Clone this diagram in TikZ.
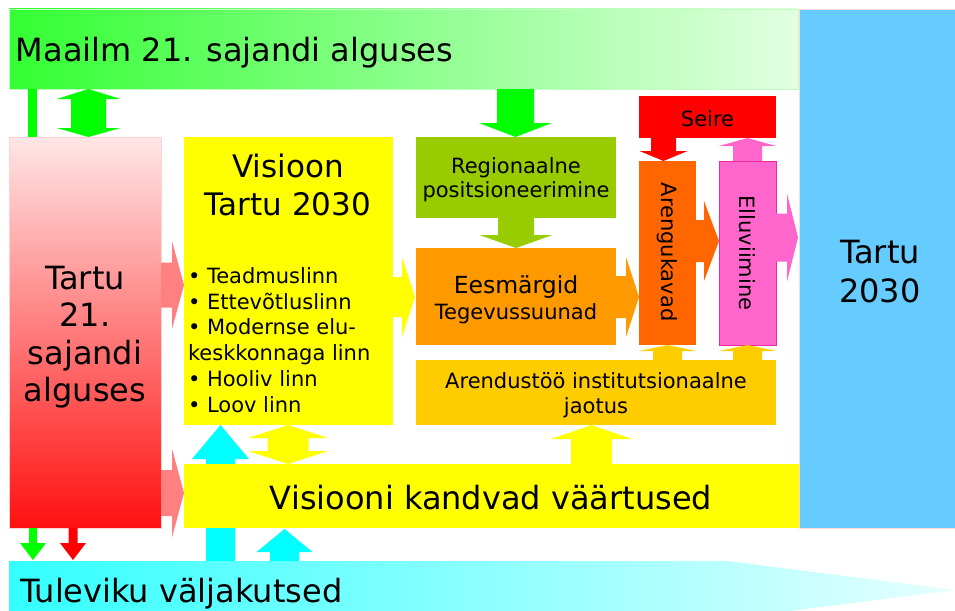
\documentclass[tikz,border=0pt]{standalone}
\usepackage{fontspec}
\setmainfont{DejaVu Sans}
\definecolor{bannerG}{HTML}{33FF33}
\definecolor{bannerGm}{HTML}{A8FFA8}
\definecolor{bannerGr}{HTML}{E2FFE2}
\definecolor{arrG}{HTML}{00FF00}
\definecolor{yel}{HTML}{FFFF00}
\definecolor{olv}{HTML}{99CC00}
\definecolor{orng}{HTML}{FF9900}
\definecolor{orngR}{HTML}{FF6600}
\definecolor{pinkM}{HTML}{FF66CC}
\definecolor{gld}{HTML}{FFCC00}
\definecolor{skyb}{HTML}{66CCFF}
\definecolor{salm}{HTML}{FF8080}
\definecolor{cyanA}{HTML}{00FFFF}
\definecolor{cyanL}{HTML}{33FFFF}
\definecolor{cyanM}{HTML}{A0FFFF}
\definecolor{cyanR}{HTML}{E6FFFF}
\definecolor{pinkT}{HTML}{FFE6E6}
\definecolor{pinkMid}{HTML}{FFAAAA}
\definecolor{redB}{HTML}{FF1010}
\newcommand\fsL{\fontsize{32}{38}\selectfont}
\newcommand\fsV{\fontsize{31}{37}\selectfont}
\newcommand\fsE{\fontsize{23.5}{28}\selectfont}
\newcommand\fsM{\fontsize{21}{25}\selectfont}
% right-pointing block arrow: x shaft start, x head base, x tip, y centre, shaft half, head half, style
\newcommand\blkR[7]{\fill[#7] (#1,#4-#5) -- (#2,#4-#5) -- (#2,#4-#6) -- (#3,#4) -- (#2,#4+#6) -- (#2,#4+#5) -- (#1,#4+#5) -- cycle;}
% vertical block arrow: y shaft start, y head base, y tip, x centre, shaft half, head half, style
\newcommand\blkV[7]{\fill[#7] (#4-#5,#1) -- (#4-#5,#2) -- (#4-#6,#2) -- (#4,#3) -- (#4+#6,#2) -- (#4+#5,#2) -- (#4+#5,#1) -- cycle;}
% double vertical block arrow: x centre, top tip, top head base, bottom head base, bottom tip, shaft half, head half, style
\newcommand\blkVV[8]{\fill[#8] (#1,#2) -- (#1+#7,#3) -- (#1+#6,#3) -- (#1+#6,#4) -- (#1+#7,#4) -- (#1,#5) -- (#1-#7,#4) -- (#1-#6,#4) -- (#1-#6,#3) -- (#1-#7,#3) -- cycle;}
\begin{document}
\begin{tikzpicture}[x=1pt,y=-1pt,
  box/.style={inner sep=0pt, outer sep=0pt, anchor=north west},
  lbl/.style={inner sep=0pt, outer sep=0pt, anchor=base}]
\useasboundingbox (0,0) rectangle (955,610);

% top banner
\node[box, minimum width=789, minimum height=80, left color=bannerG, middle color=bannerGm, right color=bannerGr, draw=green!25] (world) at (9,9) {};
\node[lbl, anchor=base west] (worldT) at (16,62) {\fsL Maailm 21. sajandi alguses};

% right blue box
\node[box, minimum width=157, minimum height=519, fill=skyb, draw=pink!60, line width=0.5pt] (t2030) at (799,9) {};
\node[lbl] at (880,263) {\fsL Tartu};
\node[lbl] at (880,302) {\fsL 2030};

% left pink box
\node[box, minimum width=152, minimum height=391, top color=pinkT, middle color=pinkMid, bottom color=redB, draw=pink!70] (tnow) at (9,137) {};
\node[lbl] at (85,289) {\fsL Tartu};
\node[lbl] at (85,326.5) {\fsL 21.};
\node[lbl] at (85,364) {\fsL sajandi};
\node[lbl] at (85,401.5) {\fsL alguses};

% green links from banner
\fill[arrG] (28,89) rectangle (37,137);
\blkVV{88.5}{89}{99}{128}{137}{17.5}{32}{arrG}

% vision box
\node[box, minimum width=209, minimum height=288, fill=yel] (vis) at (184,137) {};
\node[lbl] at (288,177) {\fsV Visioon};
\node[lbl] at (288,215) {\fsV Tartu 2030};
\node[lbl, anchor=base west] at (188,283) {\fsM • Teadmuslinn};
\node[lbl, anchor=base west] at (188,309) {\fsM • Ettevõtluslinn};
\node[lbl, anchor=base west] at (188,334.5) {\fsM • Modernse elu-};
\node[lbl, anchor=base west] at (188,360) {\fsM keskkonnaga linn};
\node[lbl, anchor=base west] at (188,386) {\fsM • Hooliv linn};
\node[lbl, anchor=base west] at (188,412) {\fsM • Loov linn};

% cyan tall arrow (behind values box)
\blkV{561}{459}{425}{220.5}{14.5}{28.5}{cyanA}

% values box
\node[box, minimum width=615, minimum height=64, fill=yel] (val) at (184,464) {};
\node[lbl] at (491,509) {\fsL Visiooni kandvad väärtused};

% bottom banner
\shade[left color=cyanL, middle color=cyanM, right color=cyanR] (9,561) -- (727,561) -- (955,590) -- (727,619) -- (9,619) -- cycle;
\node[lbl, anchor=base west] (futT) at (20,602) {\fsL Tuleviku väljakutsed};

% pink arrows into vision and values
\blkR{161}{172}{184}{285}{22.5}{44}{salm}
\blkR{161}{172}{184}{493}{23}{44.5}{salm}

% vision -> goals
\blkR{393}{402}{415}{297}{20}{40}{yel}

% banner -> regional
\blkV{89}{123}{137}{515.5}{18.5}{36.5}{arrG}
\node[box, minimum width=200, minimum height=81, fill=olv] (reg) at (416,137) {};
\node[lbl] at (516,173) {\fsM Regionaalne};
\node[lbl] at (516,197) {\fsM positsioneerimine};
\blkV{218}{235}{248}{516}{18}{36.5}{olv}

% goals box
\node[box, minimum width=200, minimum height=97, fill=orng] (goal) at (416,248) {};
\node[lbl] at (516,293) {\fsE Eesmärgid};
\node[lbl] at (516,319) {\fsM Tegevussuunad};
\blkR{616}{626}{639}{297}{21}{40}{orng}

% development plans
\node[box, minimum width=57, minimum height=184, fill=orngR] (plan) at (639,161) {};
\node[inner sep=0pt, rotate=-90] at (667.5,252) {\fsM Arengukavad};
\node[box, minimum width=57, minimum height=184, fill=pinkM, draw=magenta!80!pink, line width=0.6pt] (impl) at (719,161) {};
\node[inner sep=0pt, rotate=-90] at (747.5,253) {\fsM Elluviimine};
\blkR{696}{704}{719}{241}{21}{40}{orngR}
\blkR{776}{787}{798}{237.5}{24}{44}{pinkM}

% monitoring
\node[box, minimum width=137, minimum height=42, fill=red] (mon) at (639,96) {};
\node[lbl] at (707.5,126) {\fsM Seire};
\blkV{138}{151}{161}{663.5}{12.5}{24}{red}
\blkV{161}{146}{138}{747.5}{14.5}{28.5}{pinkM}

% institutional division
\node[box, minimum width=360, minimum height=65, fill=gld] (inst) at (416,360) {};
\node[lbl] at (596,388) {\fsM Arendustöö institutsionaalne};
\node[lbl] at (596,413) {\fsM jaotus};
\blkV{360}{351}{345}{667.5}{14.5}{28.5}{gld}
\blkV{360}{351}{345}{747.5}{14.5}{28.5}{gld}

% values links
\blkVV{288}{425}{438}{451}{464}{20.5}{40}{yel}
\blkV{464}{439}{425}{591.5}{20.5}{40.5}{yel}

% future challenges arrows
\blkV{561}{552}{529}{284.5}{14.5}{28}{cyanA}
\blkV{528}{543}{560}{33}{4}{13}{arrG}
\blkV{528}{543}{560}{73}{4.5}{13}{red}
\end{tikzpicture}
\end{document}
